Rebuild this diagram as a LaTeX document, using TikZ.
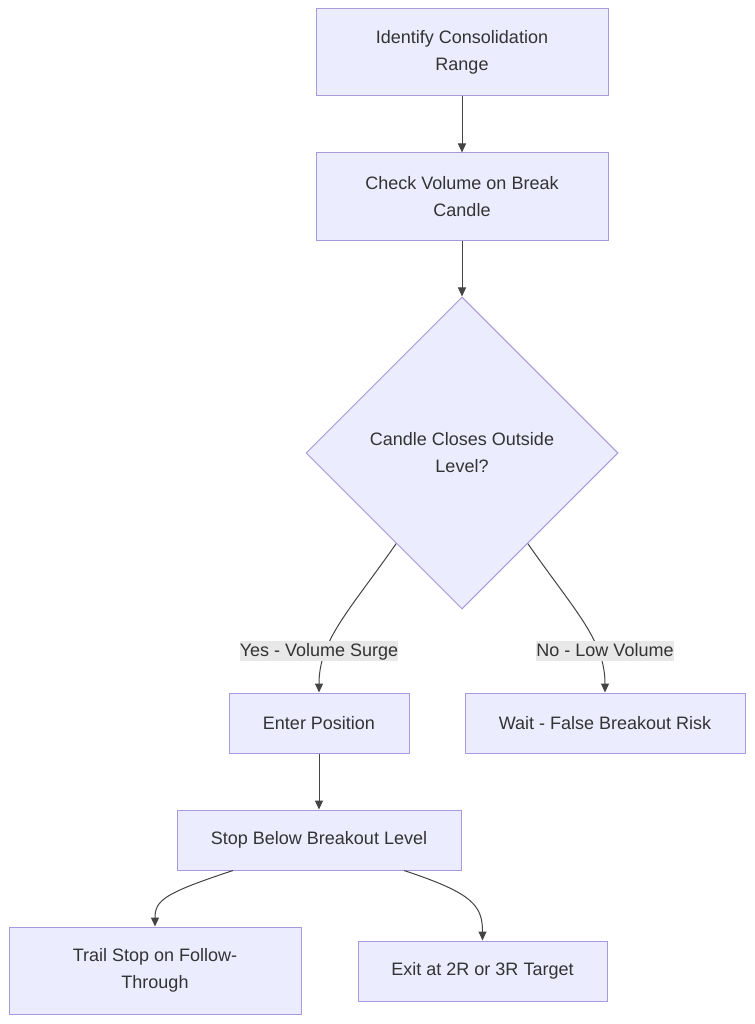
\documentclass[tikz,border=0pt]{standalone}
\usepackage{fontspec}
\setmainfont{Liberation Sans}
\usetikzlibrary{shapes.geometric,arrows.meta,calc}
\definecolor{nodefill}{HTML}{ECECFF}
\definecolor{nodestroke}{HTML}{A898DC}
\definecolor{txt}{HTML}{333333}
\definecolor{edgecol}{HTML}{444444}
\definecolor{lblbg}{HTML}{E8E8E8}
\begin{document}
\begin{tikzpicture}[x=1pt,y=-1pt,
  box/.style={draw=nodestroke,fill=nodefill,line width=1pt,inner sep=0pt,align=center,text=txt,font=\fontsize{18}{27}\selectfont},
  dec/.style={diamond,draw=nodestroke,fill=nodefill,line width=1pt,inner sep=0pt,align=center,text=txt,font=\fontsize{18}{27}\selectfont,minimum width=312pt,minimum height=312pt},
  edge/.style={draw=edgecol,line width=1pt,-{Triangle[length=9pt,width=8pt]}},
  lbl/.style={fill=lblbg,text=txt,inner xsep=0pt,inner ysep=0pt,text height=15pt,text depth=5pt,font=\fontsize{18}{27}\selectfont}]
\useasboundingbox[fill=white] (0,0) rectangle (754,1024);

\node[box,minimum width=292pt,minimum height=87pt] (ident) at (462,52.5) {Identify Consolidation\\Range};
\node[box,minimum width=292pt,minimum height=87pt] (check) at (462,196.5) {Check Volume on Break\\Candle};
\node[dec] (dec) at (462,453) {Candle Closes Outside\\Level?};
\node[box,minimum width=180pt,minimum height=60pt] (enter) at (319,723) {Enter Position};
\node[box,minimum width=280pt,minimum height=60pt] (wait) at (605,723) {Wait - False Breakout Risk};
\node[box,minimum width=284pt,minimum height=60pt] (stop) at (319,840) {Stop Below Breakout Level};
\node[box,minimum width=292pt,minimum height=87pt] (trail) at (155,970.5) {Trail Stop on Follow-\\Through};
\node[box,minimum width=249pt,minimum height=60pt] (exit) at (482.5,971) {Exit at 2R or 3R Target};

\draw[edge] (ident) -- (check);
\draw[edge] (check) -- (dec);
\draw[edge] (dec.234) .. controls (350,610) and (319,640) .. (enter.north);
\draw[edge] (dec.306) .. controls (574,610) and (605,640) .. (wait.north);
\draw[edge] (enter) -- (stop);
\draw[edge] ($(stop.south)+(-86,0)$) .. controls (165,893) and (155,900) .. (trail.north);
\draw[edge] ($(stop.south)+(85,0)$) .. controls (472,893) and (482.5,905) .. (exit.north);

\node[lbl] (lyes) at (319,651) {Yes - Volume Surge};
\node[lbl] (lno) at (605,651) {No - Low Volume};
\end{tikzpicture}
\end{document}
